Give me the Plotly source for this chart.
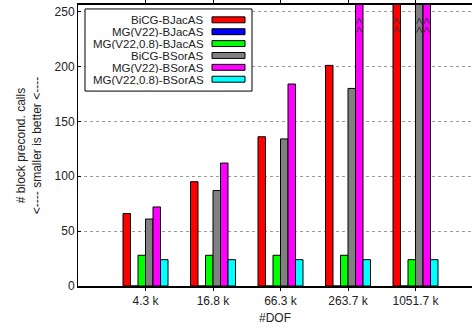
import plotly.graph_objects as go

# Problem sizes (degrees of freedom) and number of block preconditioner calls
dof_labels = ["4.3 k", "16.8 k", "66.3 k", "263.7 k", "1051.7 k"]
series_names = [
    "BiCG-BJacAS",
    "MG(V22)-BJacAS",
    "MG(V22,0.8)-BJacAS",
    "BiCG-BSorAS",
    "MG(V22)-BSorAS",
    "MG(V22,0.8)-BSorAS",
]
bicg_bjac = [66, 95, 136, 201, 330]
mg_v22_bjac = [0, 0, 0, 0, 0]
mg_v22_08_bjac = [28, 28, 28, 28, 24]
bicg_bsor = [61, 87, 134, 180, 320]
mg_v22_bsor = [72, 112, 184, 300, 470]
mg_v22_08_bsor = [24, 24, 24, 24, 24]
series_values = [bicg_bjac, mg_v22_bjac, mg_v22_08_bjac,
                 bicg_bsor, mg_v22_bsor, mg_v22_08_bsor]
colors = ["#ff0000", "#0000ff", "#00ff00", "#808080", "#ff00ff", "#00ffff"]

Y_MAX = 256
BAR_W = 0.1111
FONT = "Liberation Sans, Arial, sans-serif"
W, H = 472, 329
ML, MR, MT, MB = 78, 0, 2, 43

x_pos = list(range(1, len(dof_labels) + 1))

fig = go.Figure()
for i, (name, vals, col) in enumerate(zip(series_names, series_values, colors)):
    off = -3 * BAR_W + i * BAR_W
    fig.add_trace(go.Bar(
        x=x_pos, y=vals, name=name, width=BAR_W, offset=off,
        marker=dict(color=col, line=dict(color="#000000", width=1)),
        showlegend=False,
    ))
    # double chevron on bars that run past the top of the y range
    zx, zy = [], []
    for x, v in zip(x_pos, vals):
        if v <= Y_MAX:
            continue
        xc = x + off + BAR_W / 2
        hw = BAR_W * 0.35
        for base in (Y_MAX - 17, Y_MAX - 25):
            zx += [xc - hw, xc, xc + hw, None]
            zy += [base, base + 5, base, None]
    if zx:
        fig.add_trace(go.Scatter(
            x=zx, y=zy, mode="lines", line=dict(color="#333333", width=1),
            showlegend=False, hoverinfo="skip",
        ))

# key box with right-aligned labels and colour swatches
pw, ph = W - ML - MR, H - MT - MB


def px_x(px):
    return (px - ML) / pw


def px_y(py):
    return 1 - (py - MT) / ph


shapes = [dict(type="rect", xref="paper", yref="paper",
               x0=px_x(85), x1=px_x(252), y0=px_y(89), y1=px_y(6),
               line=dict(color="#000000", width=1), fillcolor="white", layer="above")]
annotations = []
for i, (name, col) in enumerate(zip(series_names, colors)):
    yc = 17 + i * 12
    shapes.append(dict(type="rect", xref="paper", yref="paper",
                       x0=px_x(212), x1=px_x(245), y0=px_y(yc + 3), y1=px_y(yc - 3),
                       line=dict(color="#000000", width=1), fillcolor=col, layer="above"))
    annotations.append(dict(xref="paper", yref="paper", x=px_x(205), y=px_y(yc),
                            text=name, showarrow=False, xanchor="right", yanchor="middle",
                            height=11, borderpad=0,
                            font=dict(family=FONT, size=11.5, color="#222222")))

fig.update_layout(
    width=W, height=H,
    margin=dict(l=ML, r=MR, t=MT, b=MB),
    plot_bgcolor="white", paper_bgcolor="white",
    font=dict(family=FONT, size=12, color="#222222"),
    shapes=shapes, annotations=annotations,
    barmode="overlay",
)
fig.update_xaxes(
    range=[0, 5.837], tickvals=x_pos, ticktext=dof_labels,
    showline=True, linecolor="#000000", linewidth=1.5, mirror="ticks",
    ticks="outside", ticklen=3, tickcolor="#000000",
    showgrid=False, zeroline=False,
    title=dict(text="#DOF", standoff=6, font=dict(size=12)),
)
fig.update_yaxes(
    range=[0, Y_MAX], tickvals=[0, 50, 100, 150, 200, 250],
    showline=True, linecolor="#000000", linewidth=1,
    ticks="inside", ticklen=3, tickcolor="#000000",
    showgrid=True, gridcolor="#9a9a9a", griddash="dot", gridwidth=1,
    zeroline=False,
    title=dict(text="# block precond. calls<br><---- smaller is better <----",
               standoff=10, font=dict(size=12)),
)

fig.write_html("out.html")
